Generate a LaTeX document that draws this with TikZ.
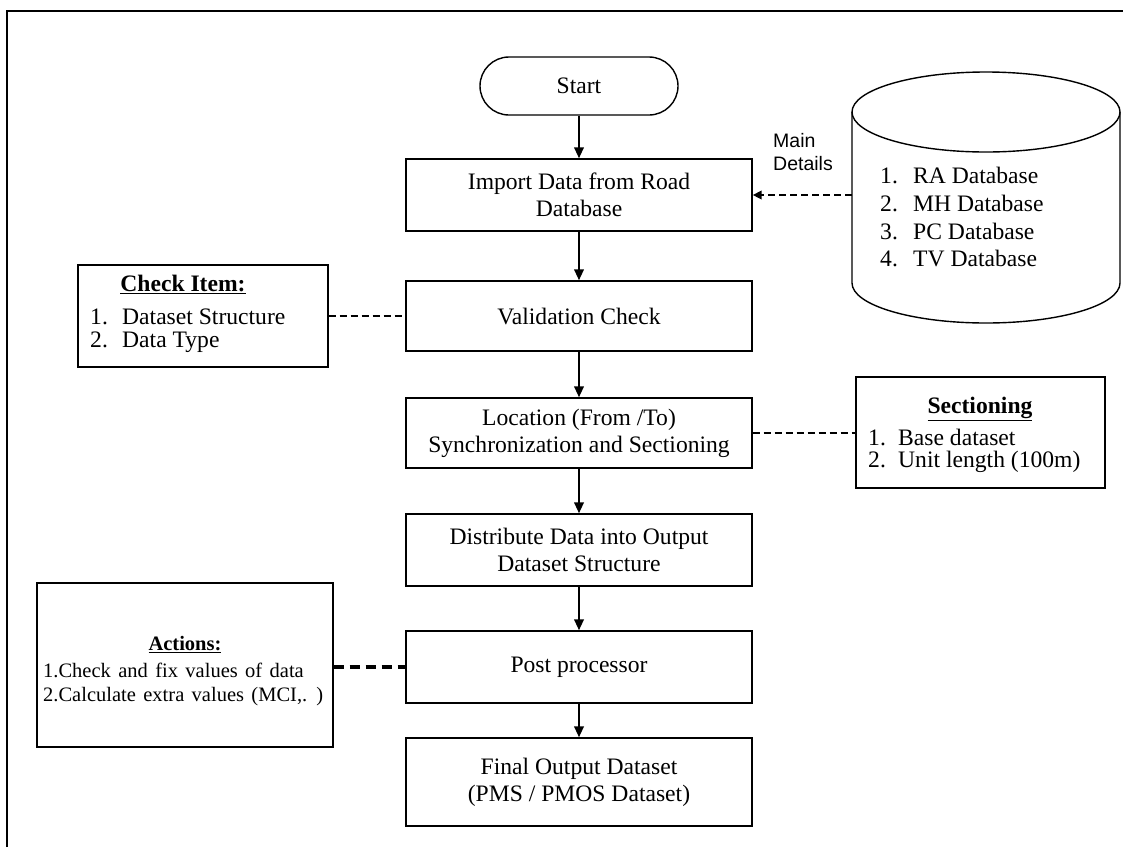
\documentclass[tikz,border=0pt]{standalone}
\usepackage{fontspec}
\setmainfont{Liberation Serif}
\newfontfamily\sansfnt{Liberation Sans}
\usetikzlibrary{arrows.meta}
\begin{document}
\begin{tikzpicture}[x=1pt,y=-1pt,
  bx/.style={draw, line width=1.4pt, minimum width=346pt, inner sep=0pt, align=center, font=\fontsize{23.6}{27}\selectfont},
  side/.style={draw, line width=1.4pt, inner sep=0pt},
  arr/.style={line width=2.2pt, -{Triangle[length=11pt,width=9.5pt]}},
  dsh/.style={line width=2pt, dash pattern=on 7pt off 4pt},
  dshthick/.style={line width=3.4pt, dash pattern=on 10pt off 6pt},
  txt/.style={inner sep=0pt, anchor=west, font=\fontsize{23.6}{27}\selectfont},
  ttl/.style={inner sep=0pt, font=\bfseries\fontsize{23.6}{27}\selectfont},
  smalltxt/.style={inner sep=0pt, anchor=west, font=\fontsize{20.5}{24}\selectfont},
  smallttl/.style={inner sep=0pt, font=\bfseries\fontsize{20.5}{24}\selectfont}
]
\useasboundingbox (0,0) rectangle (1128,847);
% frame
\draw[line width=2.6pt] (7,847) -- (7,11) -- (1123,11);

% main column
\node[draw, line width=1.4pt, rounded corners=29pt, minimum width=198pt, minimum height=58pt, inner sep=0pt, font=\fontsize{23.6}{27}\selectfont] (start) at (579,86) {Start};
\node[bx, minimum height=72pt] (import) at (579,195) {Import Data from Road\\Database};
\node[bx, minimum height=70pt] (valid) at (579,316) {Validation Check};
\node[bx, minimum height=70pt] (loc) at (579,433) {Location (From /To)\\Synchronization and Sectioning};
\node[bx, minimum height=72pt] (dist) at (579,550) {Distribute Data into Output\\Dataset Structure};
\node[bx, minimum height=72pt] (post) at (579,667) {Post processor};
\node[bx, minimum height=88pt] (final) at (579,782) {Final Output Dataset\\(PMS / PMOS Dataset)};

\draw[arr] (start) -- (import);
\draw[arr] (import) -- (valid);
\draw[arr] (valid) -- (loc);
\draw[arr] (loc) -- (dist);
\draw[arr] (dist) -- (post);
\draw[arr] (post) -- (final);

% database cylinder
\node[inner sep=0pt, minimum width=268pt, minimum height=251pt] (cyl) at (986,197.5) {};
\draw[line width=1.4pt] (986,112) ellipse [x radius=134pt, y radius=40pt];
\draw[line width=1.4pt] (852,112) -- (852,283) arc [start angle=180, end angle=360, x radius=134pt, y radius=40pt] -- (1120,112);
\node[txt] (db1) at (880,175) {\makebox[33pt][l]{1.}RA Database};
\node[txt] (db2) at (880,203) {\makebox[33pt][l]{2.}MH Database};
\node[txt] (db3) at (880,231) {\makebox[33pt][l]{3.}PC Database};
\node[txt] (db4) at (880,258) {\makebox[33pt][l]{4.}TV Database};
\node[inner sep=0pt, anchor=west, align=left, font=\sansfnt\fontsize{19.5}{23}\selectfont] (mainlbl) at (773,152) {Main\\Details};
\draw[dsh, -{Triangle[length=9pt,width=8.5pt]}] (cyl.west |- import.east) -- (import.east);

% check item
\node[side, minimum width=250pt, minimum height=102pt] (chk) at (203,316) {};
\node[ttl] (chkt) at (183,284) {\underline{Check Item:}};
\node[txt] (chk1) at (90,317) {\makebox[32pt][l]{1.}Dataset Structure};
\node[txt] (chk2) at (90,342) {\makebox[32pt][l]{2.}Data Type};
\draw[dsh] (chk.east |- valid.west) -- (valid.west);

% sectioning
\node[side, minimum width=249pt, minimum height=111pt] (sec) at (980.5,432.5) {};
\node[ttl] (sect) at (980,409) {\underline{Sectioning}};
\node[txt] (sec1) at (868,437) {\makebox[30pt][l]{1.}Base dataset};
\node[txt] (sec2) at (868,462) {\makebox[30pt][l]{2.}Unit length (100m)};
\draw[dsh] (loc.east) -- (sec.west |- loc.east);

% actions
\node[side, minimum width=296pt, minimum height=164pt] (act) at (185,665) {};
\node[smallttl] (actt) at (185,645) {\underline{Actions:}};
\node[smalltxt] (act1) at (43,670) {\spaceskip=0.36em 1.Check and fix values of data};
\node[smalltxt] (act2) at (43,697) {\spaceskip=0.36em 2.Calculate extra values (MCI,. )};
\draw[dshthick] (act.east |- post.west) -- (post.west);
\end{tikzpicture}
\end{document}
